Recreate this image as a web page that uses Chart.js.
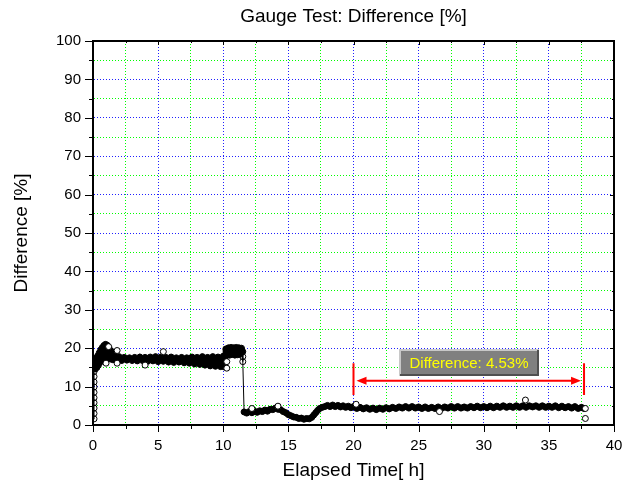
<!DOCTYPE html>
<html>
<head>
<meta charset="utf-8">
<script src="https://cdn.jsdelivr.net/npm/chart.js"></script>
<style>
  html, body { margin: 0; padding: 0; background: #fff; }
  canvas { display: block; }
</style>
</head>
<body>
<canvas id="gaugeChart" width="635" height="486"></canvas>
<script>
// Gauge test readings: elapsed time [h] and difference [%]
var hours = [
    // start-up column
    0.08, 0.08, 0.08, 0.08, 0.08, 0.08, 0.08, 0.08, 0.08, 0.08, 0.08,
    // climb to first plateau
    0.12, 0.18, 0.24, 0.3, 0.36, 0.42, 0.48, 0.54, 0.6, 0.66, 0.72, 0.78, 0.84, 0.9, 0.96,
    1.02, 1.08, 1.16, 1.24, 1.32, 1.42, 1.52,
    // first plateau
    1.6, 1.8, 2.0, 2.2, 2.4, 2.6, 2.8, 3.0, 3.2, 3.4, 3.6, 3.8, 4.0, 4.2, 4.4, 4.6, 4.8,
    5.0, 5.2, 5.4, 5.6, 5.8, 6.0, 6.2, 6.4, 6.6, 6.8, 7.0, 7.2, 7.4, 7.6, 7.8, 8.0, 8.2,
    8.4, 8.6, 8.8, 9.0, 9.2, 9.4, 9.6, 9.8, 10.0, 10.1,
    // short step at ~20 %
    10.2, 10.3, 10.4, 10.5, 10.6, 10.7, 10.8, 10.9, 11.0, 11.1, 11.2, 11.3, 11.4, 11.5, 11.5, 11.5,
    // drop and long run near 4-5 %
    11.6, 11.8, 12.0, 12.2, 12.4, 12.6, 12.8, 13.0, 13.2, 13.4, 13.6, 13.8, 14.0, 14.2, 14.4,
    14.6, 14.8, 15.0, 15.2, 15.4, 15.6, 15.8, 16.0, 16.2, 16.4, 16.6, 16.8, 16.95, 17.1, 17.25,
    17.4, 17.6, 17.8, 18.0, 18.2, 18.4, 18.6, 18.8, 19.0, 19.2, 19.4, 19.6, 19.8, 20.0,
    20.25, 20.5, 20.75, 21.0, 21.25, 21.5, 21.75, 22.0, 22.25, 22.5, 22.75, 23.0, 23.25, 23.5,
    23.75, 24.0, 24.25, 24.5, 24.75, 25.0, 25.25, 25.5, 25.75, 26.0, 26.25, 26.5, 26.75, 27.0,
    27.25, 27.5, 27.75, 28.0, 28.25, 28.5, 28.75, 29.0, 29.25, 29.5, 29.75, 30.0, 30.25, 30.5,
    30.75, 31.0, 31.25, 31.5, 31.75, 32.0, 32.25, 32.5, 32.75, 33.0, 33.25, 33.5, 33.75, 34.0,
    34.25, 34.5, 34.75, 35.0, 35.25, 35.5, 35.75, 36.0, 36.25, 36.5, 36.75, 37.0, 37.25, 37.5, 37.7
];
var diffPct = [
    1.6, 3.0, 4.4, 5.8, 7.1, 8.5, 9.9, 11.2, 12.6, 13.9, 15.0,
    16.2, 14.6, 17.4, 15.0, 18.0, 15.6, 18.8, 16.4, 19.6, 17.0, 20.2, 17.4, 20.7, 17.8, 21.0,
    18.0, 20.8, 17.6, 20.0, 17.2, 19.2, 17.0,
    18.4, 16.7, 17.8, 16.8, 17.6, 16.9, 17.5, 16.8, 17.6, 16.7, 17.7, 16.8, 17.6, 16.6, 17.7, 16.7, 17.8,
    16.5, 17.7, 16.6, 17.6, 16.4, 17.7, 16.3, 17.5, 16.4, 17.6, 16.2, 17.5, 16.1, 17.7, 15.9, 17.6, 15.8,
    17.8, 15.6, 17.6, 15.4, 17.8, 15.3, 17.7, 15.2, 17.9, 15.1,
    19.8, 18.3, 20.1, 18.2, 20.2, 18.4, 20.1, 18.2, 20.2, 18.3, 20.1, 18.4, 20.0, 19.1, 17.8, 16.5,
    3.4, 3.1, 3.5, 3.2, 3.6, 3.3, 3.7, 3.5, 3.9, 3.6, 4.1, 4.0, 4.4, 4.1, 4.0,
    3.5, 3.2, 2.7, 2.4, 2.1, 2.0, 1.7, 1.8, 1.5, 1.7, 1.6, 2.0, 2.6, 3.2, 3.8,
    4.3, 4.6, 4.8, 5.1, 4.8, 5.2, 4.8, 5.1, 4.7, 5.0, 4.6, 4.9, 4.5, 4.8,
    4.3, 4.6, 4.2, 4.5, 4.1, 4.4, 4.0, 4.4, 4.1, 4.5, 4.2, 4.6, 4.3, 4.7,
    4.4, 4.8, 4.4, 4.8, 4.4, 4.7, 4.3, 4.7, 4.3, 4.6, 4.3, 4.7, 4.3, 4.7,
    4.4, 4.8, 4.4, 4.8, 4.4, 4.7, 4.4, 4.8, 4.5, 4.9, 4.5, 4.8, 4.5, 4.9,
    4.5, 4.9, 4.6, 5.0, 4.6, 4.9, 4.6, 5.0, 4.6, 5.0, 4.6, 5.0, 4.7, 5.0,
    4.6, 5.0, 4.6, 4.9, 4.6, 5.0, 4.5, 4.9, 4.5, 4.8, 4.4, 4.8, 4.3, 4.6, 4.3
];
// single readings that stand out from the band
var strayHours = [1.0, 1.2, 1.85, 1.85, 4.0, 5.4, 10.27, 10.27, 12.2, 14.2, 20.2, 26.6, 33.2, 37.8, 37.8];
var strayPct = [16.1, 20.4, 19.4, 16.1, 15.6, 19.1, 16.5, 14.8, 4.3, 4.9, 5.4, 3.5, 6.5, 4.3, 1.7];

var xLabels = [0, 5, 10, 15, 20, 25, 30, 35, 40];
var yLabels = [0, 10, 20, 30, 40, 50, 60, 70, 80, 90, 100];

// marked span and its note
var spanStart = 20;
var spanEnd = 37.7;
var spanText = "Difference: 4.53%";

var FONT = "'Liberation Sans', Arial, sans-serif";

function toPoints(xs, ys) {
    return xs.map(function (x, i) { return { x: x, y: ys[i] }; });
}

function gridColor(labels) {
    return function (ctx) {
        return ctx.tick && labels.indexOf(ctx.tick.value) >= 0 ? "#2020ff" : "#00ff00";
    };
}

// frame, tick marks, title and the difference marker
var framePlugin = {
    id: "framePlugin",
    afterDraw: function (chart) {
        var ctx = chart.ctx, a = chart.chartArea;
        var xs = chart.scales.x, ys = chart.scales.y;
        ctx.save();
        ctx.strokeStyle = "#000";
        ctx.lineWidth = 1;
        ctx.beginPath();
        xs.ticks.forEach(function (tk) {
            var px = Math.round(xs.getPixelForValue(tk.value)) + 0.5;
            var major = xLabels.indexOf(tk.value) >= 0;
            ctx.moveTo(px, a.bottom);
            ctx.lineTo(px, a.bottom + (major ? 7 : 4));
            ctx.moveTo(px, a.top);
            ctx.lineTo(px, a.top + (major ? 4 : 2));
        });
        ys.ticks.forEach(function (tk) {
            var py = Math.round(ys.getPixelForValue(tk.value)) + 0.5;
            var major = yLabels.indexOf(tk.value) >= 0;
            ctx.moveTo(a.left - (major ? 8 : 4), py);
            ctx.lineTo(a.left, py);
            ctx.moveTo(a.right, py);
            ctx.lineTo(a.right - (major ? 4 : 2), py);
        });
        ctx.stroke();

        // top and right frame lines
        ctx.lineWidth = 2;
        ctx.beginPath();
        ctx.moveTo(a.left, a.top);
        ctx.lineTo(a.right, a.top);
        ctx.lineTo(a.right, a.bottom);
        ctx.stroke();

        // title
        ctx.fillStyle = "#000";
        ctx.font = "19px " + FONT;
        ctx.textAlign = "center";
        ctx.textBaseline = "middle";
        ctx.fillText("Gauge Test: Difference [%]", (a.left + a.right) / 2, 17);

        // difference marker
        var x1 = xs.getPixelForValue(spanStart);
        var x2 = xs.getPixelForValue(spanEnd);
        var yArrow = ys.getPixelForValue(11.5);
        var yTop = ys.getPixelForValue(16.1);
        var yBot = ys.getPixelForValue(7.8);
        ctx.strokeStyle = "#ff0000";
        ctx.fillStyle = "#ff0000";
        ctx.lineWidth = 2;
        ctx.beginPath();
        ctx.moveTo(x1, yTop); ctx.lineTo(x1, yBot);
        ctx.moveTo(x2, yTop); ctx.lineTo(x2, yBot);
        ctx.moveTo(x1 + 10, yArrow); ctx.lineTo(x2 - 10, yArrow);
        ctx.stroke();
        ctx.beginPath();
        ctx.moveTo(x1 + 3, yArrow); ctx.lineTo(x1 + 13, yArrow - 4); ctx.lineTo(x1 + 13, yArrow + 4);
        ctx.closePath();
        ctx.moveTo(x2 - 3, yArrow); ctx.lineTo(x2 - 13, yArrow - 4); ctx.lineTo(x2 - 13, yArrow + 4);
        ctx.closePath();
        ctx.fill();

        var cx = xs.getPixelForValue(28.9), cy = ys.getPixelForValue(16.3);
        var bw = 140, bh = 27;
        var bx = Math.round(cx - bw / 2), by = Math.round(cy - bh / 2);
        ctx.fillStyle = "#808080";
        ctx.fillRect(bx, by, bw, bh);
        ctx.lineWidth = 2;
        ctx.strokeStyle = "#c8c8c8";
        ctx.beginPath();
        ctx.moveTo(bx + 1, by + bh); ctx.lineTo(bx + 1, by + 1); ctx.lineTo(bx + bw, by + 1);
        ctx.stroke();
        ctx.strokeStyle = "#505050";
        ctx.beginPath();
        ctx.moveTo(bx + bw - 1, by + 1); ctx.lineTo(bx + bw - 1, by + bh - 1); ctx.lineTo(bx + 1, by + bh - 1);
        ctx.stroke();
        ctx.fillStyle = "#ffff00";
        ctx.font = "15px " + FONT;
        ctx.fillText(spanText, bx + bw / 2, by + bh / 2 + 1);
        ctx.restore();
    }
};

document.addEventListener("DOMContentLoaded", function () {
    var canvas = document.getElementById("gaugeChart");
    new Chart(canvas, {
        type: "scatter",
        data: {
            datasets: [{
                label: "Stray readings",
                data: toPoints(strayHours, strayPct),
                order: 1,
                showLine: false,
                pointRadius: 3,
                pointBorderWidth: 1,
                pointBorderColor: "#000",
                pointBackgroundColor: "#fff"
            }, {
                label: "Difference",
                data: toPoints(hours, diffPct),
                order: 2,
                showLine: true,
                borderColor: "#000",
                borderWidth: 1,
                borderJoinStyle: "round",
                borderCapStyle: "round",
                // dense readings merge into a solid band; jumps and same-time columns stay thin
                segment: {
                    borderWidth: function (ctx) {
                        var vertical = Math.abs(ctx.p1.x - ctx.p0.x) < 0.5;
                        return vertical || Math.abs(ctx.p1.y - ctx.p0.y) > 25 ? 1 : 6;
                    }
                },
                pointRadius: 3,
                pointBorderWidth: 1,
                pointBorderColor: "#000",
                pointBackgroundColor: "rgba(255,255,255,0)"
            }]
        },
        options: {
            responsive: false,
            animation: false,
            layout: { padding: { top: 41, right: 21, bottom: 0, left: 0 } },
            plugins: {
                legend: { display: false },
                tooltip: { enabled: false }
            },
            scales: {
                x: {
                    type: "linear",
                    position: "bottom",
                    min: 0,
                    max: 40,
                    afterFit: function (scale) { scale.height = 61; },
                    ticks: {
                        stepSize: 2.5,
                        autoSkip: false,
                        maxRotation: 0,
                        padding: 12,
                        color: "#000",
                        font: { family: FONT, size: 15 },
                        callback: function (v) { return xLabels.indexOf(v) >= 0 ? String(v) : ""; }
                    },
                    grid: { color: gridColor(xLabels), lineWidth: 1, drawTicks: false },
                    border: { color: "#000", width: 2, dash: [1, 2] },
                    title: {
                        display: true,
                        text: "Elapsed Time[ h]",
                        color: "#000",
                        font: { family: FONT, size: 19 },
                        padding: { top: 0, bottom: 4 }
                    }
                },
                y: {
                    type: "linear",
                    min: 0,
                    max: 100,
                    afterFit: function (scale) { scale.width = 93; },
                    ticks: {
                        stepSize: 5,
                        autoSkip: false,
                        padding: 12,
                        color: "#000",
                        font: { family: FONT, size: 15 },
                        callback: function (v) { return yLabels.indexOf(v) >= 0 ? String(v) : ""; }
                    },
                    grid: { color: gridColor(yLabels), lineWidth: 1, drawTicks: false },
                    border: { color: "#000", width: 2, dash: [1, 2] },
                    title: {
                        display: true,
                        text: "Difference [%]",
                        color: "#000",
                        font: { family: FONT, size: 19 },
                        padding: { top: 10, bottom: 0 }
                    }
                }
            }
        },
        plugins: [framePlugin]
    });
});
</script>
</body>
</html>
